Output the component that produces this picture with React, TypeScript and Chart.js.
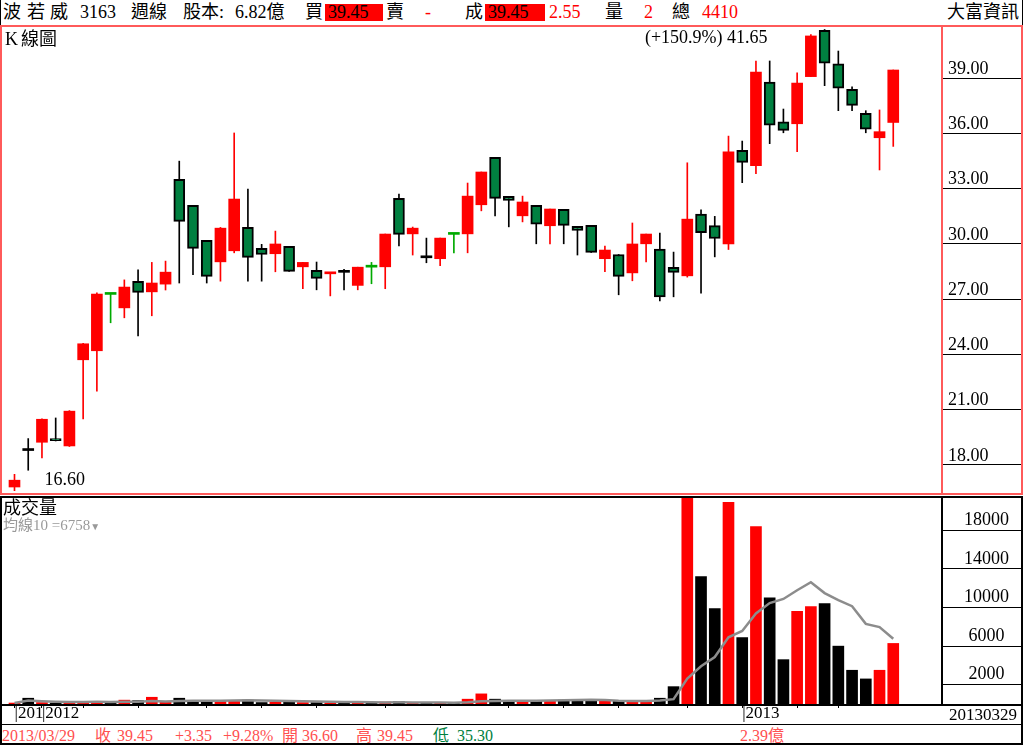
import React, { useEffect, useRef } from 'react';
import { Chart, registerables } from 'chart.js';
Chart.register(...registerables);

// ---------- data ----------
const opens = [16.80,18.78,19.23,19.43,19.03,23.71,24.20,27.26,26.53,27.97,27.40,27.82,33.51,32.10,30.20,29.03,29.63,30.90,29.76,29.47,29.87,28.76,28.57,28.38,28.46,27.75,28.74,28.76,32.48,30.55,29.25,29.20,30.52,30.55,32.13,34.71,32.59,31.53,32.10,30.99,31.88,30.96,31.01,29.20,29.43,28.43,30.01,29.72,28.73,28.27,31.62,31.00,30.00,35.09,34.25,38.80,36.63,36.53,39.09,41.61,39.78,38.40,37.10,35.77,36.60];
const highs = [17.49,19.43,20.50,20.55,20.95,24.60,27.35,27.26,28.05,28.60,29.00,29.07,34.50,32.10,30.20,30.90,36.03,32.98,29.98,30.70,29.87,29.00,29.02,28.38,28.62,28.74,29.00,30.54,32.71,30.92,30.32,30.32,30.52,33.31,33.91,34.71,32.59,32.60,32.10,31.90,31.88,30.96,31.01,29.89,29.43,31.14,30.54,30.59,29.56,34.41,31.85,31.50,35.86,35.59,39.94,39.94,37.33,39.29,41.37,41.65,40.48,38.53,37.24,37.28,39.45];
const lows = [16.60,17.71,18.38,19.30,19.00,20.50,22.00,25.72,25.99,25.01,26.10,27.50,27.88,28.33,27.88,27.98,29.52,27.98,27.98,28.49,28.51,27.57,27.51,27.18,27.51,27.51,27.84,27.57,29.90,29.40,28.98,28.82,29.52,29.52,31.80,31.53,30.93,31.20,30.01,30.01,30.01,29.40,29.54,28.49,27.24,28.00,29.03,26.91,27.13,28.20,27.33,29.30,29.70,33.33,33.82,35.45,36.04,35.01,39.09,38.60,37.24,37.24,36.04,34.02,35.30];
const closes = [17.17,18.78,20.48,19.32,20.92,24.58,27.28,27.26,27.66,27.37,27.88,28.47,31.23,29.76,28.24,30.86,32.44,29.27,29.43,30.00,28.51,29.00,28.13,28.38,28.46,28.74,28.74,30.54,30.52,30.86,29.25,30.32,30.52,32.60,33.91,32.48,32.37,32.28,31.07,31.90,31.01,30.74,29.54,29.67,28.24,30.00,30.54,27.13,28.46,31.35,30.61,30.30,35.00,34.43,39.34,36.45,36.17,38.74,41.30,39.82,38.46,37.53,36.23,36.10,39.45];
const volumes = [100,600,150,100,150,200,250,100,400,350,700,250,600,280,200,300,350,400,150,200,300,150,150,100,100,150,100,200,250,150,100,150,100,500,1050,500,280,280,280,300,400,400,400,280,280,300,300,600,1800,21600,13200,9900,20900,6900,18400,11000,4600,9600,10100,10400,6000,3500,2600,3500,6280];
// doji direction: 1 = up (red), -1 = down (green), 0 = flat (black)
const dojiTone: Record<number, number> = { 1: 0, 7: -1, 23: 1, 24: 0, 26: -1, 30: 0, 32: -1 };
const priceTicks = [18, 21, 24, 27, 30, 33, 36, 39];
const volumeTicks = [2000, 6000, 10000, 14000, 18000];
const monthStarts = [5, 9, 14, 18, 22, 27, 31, 36, 40, 44, 49, 53, 57, 60];
const yearIdx = [0, 2, 53];
const yearText = ['201', '2012', '2013'];
const lastDate = '2013/03/29';
const MA_N = 10;

const PRICE_MIN = 16.42, PRICE_MAX = 41.84;
const VOL_MAX = 21360;
const X_MIN = -0.91, X_MAX = 67.55;

const FONT = "'Liberation Serif', 'Noto Sans CJK TC', serif";
const RED = '#ff0000';
const GREEN_BODY = '#008040';
const PINK = '#ff5a5a';
const SALMON = '#ff5050';

const idx = opens.map((_, i) => i);
const tone = (i: number) => closes[i] > opens[i] ? 1 : closes[i] < opens[i] ? -1 : (dojiTone[i] ?? 0);
const dojiColor = (t: number) => t > 0 ? RED : t < 0 ? '#00aa00' : '#000000';
const wickColor = (i: number) => {
  if (closes[i] > opens[i]) return RED;
  if (closes[i] < opens[i]) return '#000000';
  return dojiColor(dojiTone[i] ?? 0);
};

const annotPlugin = {
  id: 'hiLo',
  afterDatasetsDraw(chart: any) {
    const { ctx, scales } = chart;
    const x = scales.x, y = scales.y;
    let hi = 0, lo = 0;
    highs.forEach((v, i) => { if (v > highs[hi]) hi = i; });
    lows.forEach((v, i) => { if (v < lows[lo]) lo = i; });
    const pct = (highs[hi] / lows[lo] - 1) * 100;
    ctx.save();
    ctx.font = `18px ${FONT}`;
    ctx.fillStyle = '#000';
    ctx.textBaseline = 'alphabetic';
    ctx.textAlign = 'right';
    ctx.fillText(`(+${pct.toFixed(1)}%) ${highs[hi].toFixed(2)}`, x.getPixelForValue(hi) - 57, y.getPixelForValue(highs[hi]) + 14);
    ctx.textAlign = 'left';
    ctx.fillText(lows[lo].toFixed(2), x.getPixelForValue(lo) + 30, y.getPixelForValue(lows[lo]) - 6);
    ctx.restore();
  },
};

function priceConfig(): any {
  const up = idx.filter(i => closes[i] > opens[i]);
  const down = idx.filter(i => closes[i] < opens[i]);
  const doji = idx.filter(i => closes[i] === opens[i]);
  return {
    type: 'bar',
    data: {
      datasets: [
        { data: up.map(i => ({ x: i, y: [opens[i], closes[i]] })), backgroundColor: RED, borderWidth: 0, barThickness: 11, grouped: false, order: 1 },
        { data: down.map(i => ({ x: i, y: [closes[i], opens[i]] })), backgroundColor: GREEN_BODY, borderColor: '#000', borderWidth: 2, borderSkipped: false, barThickness: 11, grouped: false, order: 1 },
        { data: doji.map(i => ({ x: i, y: [closes[i], closes[i]] })), backgroundColor: doji.map(i => dojiColor(dojiTone[i] ?? 0)), borderWidth: 0, minBarLength: 2, barThickness: 11, grouped: false, order: 1 },
        { data: idx.map(i => ({ x: i, y: [lows[i], highs[i]] })), backgroundColor: idx.map(wickColor), borderWidth: 0, barThickness: 1, grouped: false, order: 2 },
      ],
    },
    options: {
      responsive: false, animation: false, devicePixelRatio: 1,
      layout: { padding: { left: 2, right: 2, top: 0, bottom: 0 } },
      plugins: { legend: { display: false }, tooltip: { enabled: false } },
      scales: {
        x: { type: 'linear', min: X_MIN, max: X_MAX, offset: false, display: false, grid: { offset: false } },
        y: {
          type: 'linear', position: 'right', min: PRICE_MIN, max: PRICE_MAX,
          afterBuildTicks: (s: any) => { s.ticks = priceTicks.map(v => ({ value: v })); },
          afterFit: (s: any) => { s.width = 80; },
          grid: { drawOnChartArea: false, drawTicks: true, tickLength: 79, color: '#000', lineWidth: 1 },
          border: { display: false },
          ticks: { autoSkip: false, crossAlign: 'near', padding: -73, labelOffset: -9, color: '#000', font: { family: FONT, size: 18 }, callback: (v: any) => Number(v).toFixed(2) },
        },
      },
    },
    plugins: [annotPlugin],
  };
}

function volConfig(): any {
  const ma = idx.map(i => {
    const s = Math.max(0, i - MA_N + 1);
    const w = volumes.slice(s, i + 1);
    return w.reduce((a, b) => a + b, 0) / w.length;
  });
  const allTicks = Array.from(new Set([...monthStarts, ...yearIdx])).sort((a, b) => a - b);
  return {
    type: 'bar',
    data: {
      datasets: [
        { type: 'line', data: idx.map(i => ({ x: i, y: ma[i] })), borderColor: '#8c8c8c', borderWidth: 2.5, pointRadius: 0, tension: 0, order: 1 },
        { data: idx.map(i => ({ x: i, y: volumes[i] })), backgroundColor: idx.map(i => tone(i) > 0 ? RED : '#000'), borderWidth: 0, barThickness: 11, grouped: false, order: 2 },
      ],
    },
    options: {
      responsive: false, animation: false, devicePixelRatio: 1,
      layout: { padding: { left: 2, right: 2, top: 0, bottom: 0 } },
      plugins: { legend: { display: false }, tooltip: { enabled: false } },
      scales: {
        x: {
          type: 'linear', position: 'bottom', min: X_MIN, max: X_MAX, offset: false,
          afterBuildTicks: (s: any) => { s.ticks = allTicks.map(v => ({ value: v })); },
          afterFit: (s: any) => { s.height = 21; },
          grid: { offset: false, drawOnChartArea: false, drawTicks: true, tickLength: 4, color: '#000' },
          border: { display: false },
          ticks: {
            autoSkip: false, maxRotation: 0, minRotation: 0, align: 'start', padding: -5, color: '#000', font: { family: FONT, size: 17 },
            callback: (v: any) => { const k = yearIdx.indexOf(Number(v)); return k >= 0 ? '|' + yearText[k] : ''; },
          },
        },
        y: {
          type: 'linear', position: 'right', min: 0, max: VOL_MAX,
          afterBuildTicks: (s: any) => { s.ticks = volumeTicks.map(v => ({ value: v })); },
          afterFit: (s: any) => { s.width = 80; },
          grid: { drawOnChartArea: false, drawTicks: true, tickLength: 79, color: '#000', lineWidth: 1 },
          border: { display: false },
          ticks: { autoSkip: false, crossAlign: 'center', padding: -57, labelOffset: -10, color: '#000', font: { family: FONT, size: 18 }, callback: (v: any) => String(v) },
        },
      },
    },
  };
}

const Txt = ({ x, base, size = 18, color = '#000', children }: any) => (
  <div style={{ position: 'absolute', left: x, top: base - 0.8375 * size, fontSize: size, lineHeight: `${size}px`, color, whiteSpace: 'nowrap', fontFamily: FONT }}>{children}</div>
);
const Box = ({ x, y, w, h, c }: any) => (
  <div style={{ position: 'absolute', left: x, top: y, width: w, height: h, background: c }} />
);

export default function App() {
  const priceRef = useRef<HTMLCanvasElement>(null);
  const volRef = useRef<HTMLCanvasElement>(null);
  useEffect(() => {
    const pc = new Chart(priceRef.current as HTMLCanvasElement, priceConfig());
    const vc = new Chart(volRef.current as HTMLCanvasElement, volConfig());
    return () => { pc.destroy(); vc.destroy(); };
  }, []);

  const n = closes.length;
  const last = n - 1;
  const chg = closes[last] - closes[last - 1];
  const pct = chg / closes[last - 1] * 100;
  const maLast = Math.round(volumes.slice(n - MA_N).reduce((a, b) => a + b, 0) / MA_N);
  const fmtSign = (v: number, d: number) => (v >= 0 ? '+' : '') + v.toFixed(d);

  return (
    <div style={{ position: 'absolute', left: 0, top: 0, width: 1024, height: 745, background: '#fff', overflow: 'hidden', fontFamily: FONT }}>
      <canvas ref={priceRef} width={1024} height={468} style={{ position: 'absolute', left: 0, top: 26, width: 1024, height: 468 }} />
      <canvas ref={volRef} width={1024} height={227} style={{ position: 'absolute', left: 0, top: 498, width: 1024, height: 227 }} />

      {/* header */}
      <Txt x={3} base={18}>波</Txt>
      <Txt x={27} base={18}>若</Txt>
      <Txt x={50} base={18}>威</Txt>
      <Txt x={80} base={18}>3163</Txt>
      <Txt x={131} base={18}>週線</Txt>
      <Txt x={183} base={18}>股本:</Txt>
      <Txt x={235} base={18}>6.82億</Txt>
      <Txt x={305} base={18}>買</Txt>
      <Box x={325} y={4} w={58} h={17} c={RED} />
      <Txt x={328} base={18}>{closes[last].toFixed(2)}</Txt>
      <Txt x={386} base={18}>賣</Txt>
      <Txt x={425} base={18} color={RED}>-</Txt>
      <Txt x={465} base={18}>成</Txt>
      <Box x={485} y={4} w={60} h={17} c={RED} />
      <Txt x={488} base={18}>{closes[last].toFixed(2)}</Txt>
      <Txt x={549} base={18} color={RED}>2.55</Txt>
      <Txt x={605} base={18}>量</Txt>
      <Txt x={644} base={18} color={RED}>2</Txt>
      <Txt x={672} base={18}>總</Txt>
      <Txt x={702} base={18} color={RED}>4410</Txt>
      <Txt x={947} base={18}>大富資訊</Txt>

      {/* K panel titles */}
      <Txt x={5} base={45}>K</Txt>
      <Txt x={21} base={45}>線圖</Txt>

      {/* volume titles */}
      <Txt x={3} base={514}>成交量</Txt>
      <Txt x={3} base={531} size={15} color="#999">均線{MA_N} ={maLast}<span style={{ fontSize: 10 }}>▼</span></Txt>

      {/* x axis right label */}
      <Txt x={949} base={720} size={17}>{lastDate.replace(/\//g, '')}</Txt>

      {/* status row */}
      <Txt x={2} base={741} size={16} color={SALMON}>{lastDate}</Txt>
      <Txt x={95} base={741} size={16} color={SALMON}>收</Txt>
      <Txt x={117} base={741} size={16} color={SALMON}>{closes[last].toFixed(2)}</Txt>
      <Txt x={175} base={741} size={16} color={SALMON}>{fmtSign(chg, 2)}</Txt>
      <Txt x={223} base={741} size={16} color={SALMON}>{fmtSign(pct, 2)}%</Txt>
      <Txt x={282} base={741} size={16} color={SALMON}>開</Txt>
      <Txt x={302} base={741} size={16} color={SALMON}>{opens[last].toFixed(2)}</Txt>
      <Txt x={356} base={741} size={16} color={SALMON}>高</Txt>
      <Txt x={377} base={741} size={16} color={SALMON}>{highs[last].toFixed(2)}</Txt>
      <Txt x={433} base={741} size={16} color={GREEN_BODY}>低</Txt>
      <Txt x={457} base={741} size={16} color={GREEN_BODY}>{lows[last].toFixed(2)}</Txt>
      <Txt x={740} base={741} size={16} color={SALMON}>2.39億</Txt>

      {/* frames: K panel (pink) */}
      <Box x={0} y={25} w={1023} h={2} c={PINK} />
      <Box x={0} y={493} w={1023} h={2} c={PINK} />
      <Box x={0} y={25} w={2} h={470} c={PINK} />
      <Box x={941} y={25} w={2} h={470} c={PINK} />
      <Box x={1021} y={25} w={2} h={470} c={PINK} />
      {/* volume panel (black) */}
      <Box x={0} y={496} w={1023} h={2} c="#000" />
      <Box x={0} y={704} w={1023} h={2} c="#000" />
      <Box x={0} y={496} w={2} h={249} c="#000" />
      <Box x={941} y={496} w={2} h={210} c="#000" />
      <Box x={1021} y={496} w={2} h={249} c="#000" />
      <Box x={0} y={724} w={1023} h={1} c="#000" />
      <Box x={0} y={743} w={1023} h={2} c="#000" />
      <Box x={0} y={0} w={1} h={25} c="#000" />
      <Box x={1022} y={0} w={1} h={25} c="#000" />
    </div>
  );
}
